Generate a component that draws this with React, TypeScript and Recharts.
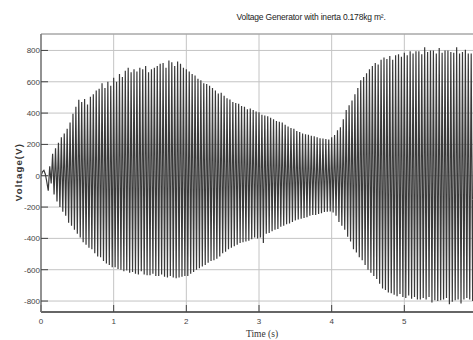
import React from "react";
import { LineChart, Line, XAxis, YAxis, CartesianGrid } from "recharts";

const TITLE = "Voltage Generator with inerta 0.178kg m\u00B2.";
const X_LABEL = "Time (s)";
const Y_LABEL = "Voltage(V)";
const X_TICKS = [0, 1, 2, 3, 4, 5];
const Y_TICKS = [-800, -600, -400, -200, 0, 200, 400, 600, 800];
const SAMPLE_STEP = 0.02; // seconds between samples

// voltage samples (V), one per SAMPLE_STEP
const VOLTAGE = [
  0, 25, 35, 10, -40,
  -95, 60, -50, 140, -120,
  175, -165, 210, -200, 245,
  -230, 270, -255, 300, -300,
  340, -320, 395, -345, 440,
  -370, 485, -395, 470, -425,
  490, -440, 455, -460, 505,
  -470, 520, -495, 545, -515,
  555, -520, 590, -545, 560,
  -560, 600, -570, 575, -585,
  625, -585, 600, -595, 650,
  -600, 630, -610, 670, -605,
  690, -620, 660, -615, 680,
  -625, 665, -630, 690, -610,
  680, -630, 700, -635, 660,
  -635, 680, -625, 690, -640,
  700, -640, 715, -630, 720,
  -645, 690, -650, 735, -640,
  725, -650, 700, -655, 730,
  -650, 715, -645, 690, -640,
  680, -640, 665, -625, 650,
  -615, 640, -600, 620, -590,
  610, -580, 590, -570, 585,
  -555, 575, -545, 560, -540,
  545, -530, 525, -515, 530,
  -495, 510, -485, 495, -470,
  486, -460, 470, -450, 465,
  -440, 460, -430, 445, -425,
  440, -420, 425, -415, 430,
  -405, 420, -395, 410, -400,
  405, -395, 390, -430, 385,
  -370, 380, -365, 370, -355,
  360, -345, 350, -340, 345,
  -325, 340, -320, 325, -310,
  315, -305, 305, -295, 300,
  -285, 285, -280, 280, -275,
  270, -270, 265, -265, 262,
  -255, 255, -250, 252, -250,
  245, -245, 240, -240, 238,
  -232, 235, -230, 232, -228,
  245, -235, 260, -255, 290,
  -295, 310, -320, 360, -345,
  420, -390, 450, -420, 480,
  -470, 520, -490, 560, -520,
  610, -540, 630, -570, 655,
  -600, 680, -620, 700, -640,
  720, -660, 710, -690, 740,
  -720, 755, -730, 745, -745,
  765, -750, 740, -760, 770,
  -770, 775, -755, 760, -775,
  785, -780, 770, -765, 795,
  -785, 780, -775, 795, -790,
  795, -790, 775, -780, 820,
  -790, 790, -775, 800, -810,
  800, -795, 780, -800, 815,
  -795, 785, -790, 800, -780,
  800, -820, 790, -805, 785,
  -795, 820, -790, 780, -815,
  790, -790, 805, -780, 780,
  -790, 780, -800, 790, -785,
  775,
];

const data = VOLTAGE.map((v, i) => ({ t: +(i * SAMPLE_STEP).toFixed(2), v }));

const TICK_FONT = "'Liberation Sans Narrow', 'Liberation Sans', Arial, sans-serif";

export default function App() {
  return (
    <div
      style={{
        position: "absolute",
        left: 0,
        top: 0,
        width: 473,
        height: 340,
        overflow: "hidden",
        background: "#fff",
      }}
    >
      <LineChart
        width={480}
        height={340}
        data={data}
        margin={{ top: 33, right: 3, bottom: 27, left: 40 }}
      >
        <CartesianGrid stroke="#c4c4c4" strokeWidth={1} />
        <XAxis
          xAxisId="top"
          orientation="top"
          dataKey="t"
          type="number"
          domain={[0, 6]}
          ticks={X_TICKS}
          allowDataOverflow
          height={1}
          tick={false}
          tickSize={-7}
          axisLine={{ stroke: "#9a9a9a", strokeWidth: 1 }}
          tickLine={{ stroke: "#555" }}
        />
        <XAxis
          dataKey="t"
          type="number"
          domain={[0, 6]}
          ticks={X_TICKS}
          allowDataOverflow
          height={1}
          tickSize={-7}
          tickMargin={13}
          interval={0}
          axisLine={{ stroke: "#666", strokeWidth: 2 }}
          tickLine={{ stroke: "#444" }}
          tick={{ fontSize: 8, fill: "#444", fontFamily: TICK_FONT }}
        />
        <YAxis
          type="number"
          domain={[-870, 905]}
          ticks={Y_TICKS}
          allowDataOverflow
          width={1}
          tickSize={-7}
          tickMargin={8}
          interval={0}
          axisLine={{ stroke: "#777", strokeWidth: 1.5 }}
          tickLine={{ stroke: "#444" }}
          tick={{ fontSize: 8, fill: "#444", fontFamily: TICK_FONT }}
        />
        <Line
          xAxisId={0}
          type="linear"
          dataKey="v"
          stroke="#3a3a3a"
          strokeWidth={1.2}
          dot={false}
          isAnimationActive={false}
        />
      </LineChart>
      <div
        style={{
          position: "absolute",
          left: 311,
          top: 12,
          transform: "translateX(-50%)",
          whiteSpace: "nowrap",
          fontFamily: TICK_FONT,
          fontSize: 8.5,
          letterSpacing: -0.2,
          color: "#222",
        }}
      >
        {TITLE}
      </div>
      <div
        style={{
          position: "absolute",
          left: 18,
          top: 172,
          transform: "translate(-50%, -50%) rotate(-90deg)",
          whiteSpace: "nowrap",
          fontFamily: "'Liberation Sans', Arial, sans-serif",
          fontWeight: "bold",
          fontSize: 9.5,
          letterSpacing: 1.2,
          color: "#333",
        }}
      >
        {Y_LABEL}
      </div>
      <div
        style={{
          position: "absolute",
          left: 262,
          top: 329,
          transform: "translateX(-50%)",
          whiteSpace: "nowrap",
          fontFamily: "'Liberation Serif', 'Times New Roman', serif",
          fontSize: 9.5,
          color: "#333",
        }}
      >
        {X_LABEL}
      </div>
    </div>
  );
}
